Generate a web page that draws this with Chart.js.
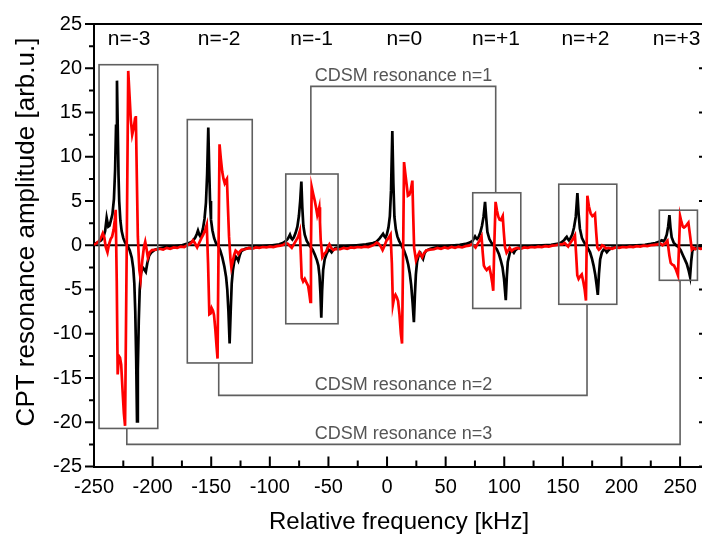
<!DOCTYPE html>
<html>
<head>
<meta charset="utf-8">
<script src="https://cdn.jsdelivr.net/npm/chart.js@4.4.1/dist/chart.umd.min.js"></script>
<style>
html,body{margin:0;padding:0;overflow:hidden;background:#fff;}
#wrap{width:712px;height:545px;}
</style>
</head>
<body>
<div id="wrap"><canvas id="c" width="712" height="545"></canvas></div>
<script>
// ---- data (kHz, arb.u.) ----
const blackSignal = [
[-250,0.15],[-247,0.3],[-244,0.55],[-242,0.9],[-240.5,1.6],[-239.2,3.1],[-237.8,2.1],[-236.8,2.2],[-235.8,2.7],[-234.3,3.5],[-233,5.2],[-232,8.5],[-231.2,13.5],[-230.4,18.6],[-229.7,13],[-229.1,8],[-228.5,5],[-227.5,2.8],[-226.4,1.6],[-225,0.8],[-223.5,0.3],[-221.5,0],[-219.5,-0.6],[-217.8,-1.4],[-216.5,-2.6],[-215.6,-4.3],[-214.8,-7.5],[-214,-13],[-213.3,-19.9],[-212.6,-14],[-211.8,-8.5],[-211,-5],[-210,-3.2],[-208.5,-2.5],[-207.3,-2.7],[-205.8,-3.0],[-204.5,-2.0],[-203,-1.2],[-201,-0.8],[-198,-0.5],[-194,-0.35],[-190,-0.25],[-185,-0.2],[-180,-0.1],[-175,0],[-171,0.15],
[-168,0.3],[-165.5,0.5],[-163.5,0.9],[-162.2,1.3],[-161.3,1.65],[-160.2,1.2],[-159.3,1.0],[-158.2,1.3],[-157,1.9],[-155.7,3.0],[-154.5,4.8],[-153.5,8],[-152.5,13.3],[-151.7,8.5],[-151,5],[-150.2,2.9],[-149,1.7],[-147.5,0.8],[-145.8,0.2],[-144.2,0],[-142.3,-0.6],[-140.5,-1.4],[-138.8,-2.4],[-137.3,-3.6],[-136.3,-5],[-135.3,-7.5],[-134.3,-11.1],[-133.4,-7.5],[-132.5,-4.3],[-131.5,-2.8],[-130.3,-1.8],[-129,-1.3],[-127.8,-1.5],[-126.9,-1.75],[-125.6,-1.1],[-124.3,-0.65],[-121,-0.4],[-117,-0.3],[-112,-0.2],[-105,-0.1],[-98,0],[-92,0.1],
[-89,0.25],[-86.5,0.45],[-84.5,0.75],[-82.8,1.2],[-81.7,0.8],[-80.8,0.65],[-79.5,0.9],[-78,1.4],[-76.5,2.1],[-75.2,3.3],[-74.1,5],[-73.1,7.2],[-72.3,4.3],[-71.4,2.2],[-70.2,1.2],[-68.5,0.5],[-66.3,0],[-63.5,-0.5],[-61.5,-1.1],[-59.8,-1.7],[-58.6,-2.3],[-57.6,-3.5],[-56.8,-5.5],[-56.1,-8.2],[-55.4,-5.2],[-54.5,-2.8],[-53.2,-1.6],[-51.5,-0.95],[-49.8,-0.5],[-48.5,-0.6],[-47.3,-0.8],[-45.8,-0.5],[-44,-0.3],[-40,-0.2],[-34,-0.1],[-26,0],[-18,0.1],
[-12,0.25],[-9,0.4],[-6.5,0.75],[-4.5,1.1],[-3.4,1.3],[-2.3,1.0],[-1.4,0.85],[-0.2,1.2],[1.2,2.0],[2.4,3.3],[3.4,6.2],[4.5,12.9],[5.4,7],[6.3,3.2],[7.5,1.8],[8.8,1.0],[10.3,0.5],[12.2,0],[14.5,-0.6],[16.5,-1.35],[18.1,-2.2],[19.4,-3.2],[20.6,-4.5],[21.8,-6.5],[22.9,-8.7],[23.8,-5.5],[24.6,-3.3],[25.6,-1.9],[26.8,-1.2],[28.5,-0.9],[29.6,-1.3],[30.7,-1.55],[32,-0.9],[33.5,-0.6],[37,-0.4],[41,-0.25],[48,-0.15],[55,-0.05],[62,0.05],
[67,0.15],[70.5,0.3],[73,0.5],[74.3,0.8],[75.1,1.0],[76,0.8],[76.8,0.7],[78,0.9],[79.5,1.4],[81,2.2],[82.3,3.2],[83.6,4.9],[84.6,3.1],[85.6,1.5],[87.3,0.7],[89.2,0.25],[90.7,0],[93.6,-0.45],[95.5,-1],[97,-1.7],[98.5,-2.5],[99.8,-3.8],[101.3,-6.2],[102.2,-3.5],[103,-1.9],[104.5,-1.0],[105.6,-0.55],[106.8,-0.6],[108.2,-0.85],[109.5,-0.55],[112,-0.3],[117,-0.2],[124,-0.1],[132,0],[140,0.05],
[145,0.15],[148.5,0.3],[151,0.55],[152.3,0.8],[153.3,0.95],[154.3,0.7],[155.2,0.55],[156.5,0.8],[158,1.2],[159.5,2],[161,3.2],[162.4,5.9],[163.4,3.6],[164.5,1.9],[166.3,0.8],[168.2,0.3],[170,0],[173.2,-0.8],[174.8,-1.5],[176.2,-2.3],[177.6,-3.3],[178.8,-4.5],[179.8,-5.6],[180.8,-3.2],[181.8,-1.6],[183.3,-0.8],[184.8,-0.5],[186,-0.5],[187.5,-0.8],[189,-0.55],[191.7,-0.3],[197,-0.2],[205,-0.1],[213,0],[220,0.05],
[225,0.15],[229,0.25],[232,0.4],[234.4,0.55],[235.8,0.45],[237.3,0.7],[238.6,1.2],[239.8,2.1],[240.9,3.4],[241.8,2.0],[242.8,0.9],[244.5,0.3],[246.5,0],[248.5,-0.2],[250.5,-0.55],[252.3,-1.1],[254,-1.6],[255.7,-2.1],[257.2,-2.8],[258.5,-3.55],[259.5,-1.8],[260.5,-0.6],[262.5,-0.3],[265.5,-0.2],[270,-0.1]
];
const redSignal = [
[-250,0.05],[-247.5,0.25],[-245.5,0.5],[-243.8,0.9],[-242.5,1.35],[-241.2,0.9],[-240,-0.2],[-238.5,-0.8],[-237.2,0.1],[-235.8,0.7],[-234.5,1.0],[-233.2,1.8],[-232.3,2.8],[-231.5,4.0],[-230.6,-4],[-229.8,-14.6],[-228.8,-12.5],[-227.8,-12.7],[-226.8,-13.5],[-225.6,-16.5],[-224.5,-19],[-223.5,-20.4],[-222.2,-2],[-220.8,19.7],[-219.8,17.2],[-218.6,14.2],[-217.4,12.5],[-216.2,13.2],[-215,14.3],[-214.3,14.6],[-213.5,8],[-212.6,1],[-211.3,-2.8],[-210.2,-3.8],[-208.8,-1.7],[-207.4,-0.2],[-206.3,0.4],[-205.2,-0.4],[-204,-1.4],[-202.5,-0.8],[-200.5,-0.55],[-197,-0.5],[-194,-0.4],[-191,-0.5],[-188,-0.3],[-185,-0.4],[-182,-0.25],[-179,-0.3],[-176,-0.15],[-173,-0.2],[-170.5,0],
[-168.5,0.1],[-166.8,0.3],[-165.6,0.55],[-164.2,0.3],[-163,0],[-162,-0.25],[-160.5,0.2],[-158.6,0.75],[-156.8,1.2],[-155.2,1.7],[-153.8,2.3],[-152.7,-2],[-151.6,-7.8],[-150.5,-7.7],[-149.6,-7.1],[-148.5,-7.4],[-147.6,-7.9],[-146.5,-9.5],[-145.4,-11.5],[-144.6,-12.8],[-143.8,-1],[-142.9,11.4],[-141.8,9.8],[-140.6,8.3],[-139.5,7.5],[-138.5,7.0],[-137.5,7.3],[-136.6,7.5],[-135.8,4.5],[-134.8,1],[-133.6,-1.5],[-132.8,-2.5],[-131.6,-1.8],[-130.5,-1.1],[-129.2,-0.6],[-128,-0.75],[-126.9,-1.0],[-125.5,-0.7],[-124,-0.5],[-121,-0.45],[-118,-0.3],[-115,-0.4],[-112,-0.25],[-109,-0.3],[-106,-0.2],[-103,-0.25],[-100,-0.15],[-97,-0.2],[-94,-0.1],[-91,-0.05],
[-88.5,0.05],[-86.3,0.25],[-84.5,0.15],[-82.8,-0.1],[-81.3,-0.3],[-79.8,0.05],[-77.8,0.5],[-76,0.9],[-74.4,1.6],[-73.6,-1],[-72.8,-3.7],[-71.6,-4.1],[-70.2,-3.8],[-68.8,-4.2],[-67.3,-4.6],[-66.3,-5.5],[-65.4,-6.4],[-64.9,0],[-64.3,6.6],[-63,5.8],[-61.6,5.0],[-60.5,4.2],[-59.5,3.4],[-58.5,3.9],[-57.8,4.3],[-57.2,2.6],[-56.6,0.6],[-55.2,-1.35],[-53.7,-1.0],[-52,-0.75],[-50.5,-0.2],[-49.2,0.1],[-47.6,-0.3],[-45.8,-0.55],[-43.5,-0.4],[-40,-0.45],[-37,-0.3],[-34,-0.4],[-31,-0.25],[-28,-0.3],[-25,-0.2],[-22,-0.25],[-19,-0.15],[-16,-0.2],[-13,-0.05],
[-10.5,0.1],[-8.8,0.3],[-7.3,0.2],[-5.5,-0.1],[-3.8,-0.55],[-2.3,-0.1],[-0.6,0.5],[1.2,0.8],[3.0,1.2],[4.1,-2],[5.0,-6.7],[6.1,-5.9],[7.2,-5.6],[8.4,-5.9],[9.4,-6.3],[10.6,-7.8],[11.8,-10],[12.8,-11.1],[13.7,-1],[14.5,9.4],[15.5,8.2],[16.6,7.0],[17.8,5.6],[19,5.7],[20.2,6.2],[21.6,7.3],[22.3,3.5],[23.1,-0.3],[24.7,-1.7],[26.2,-1.2],[27.6,-0.8],[29,-1.1],[30,-1.35],[31.5,-0.9],[33.5,-0.6],[36.5,-0.5],[40,-0.45],[43,-0.3],[46,-0.4],[49,-0.25],[52,-0.35],[55,-0.2],[58,-0.3],[61,-0.15],[64,-0.25],[67,-0.1],
[70,-0.05],[72.3,0.1],[74,-0.05],[75.5,-0.25],[77,0.1],[78.8,0.5],[80.6,1.0],[81.6,-0.8],[82.6,-2.3],[83.8,-2.6],[85,-2.8],[86.2,-2.6],[87.3,-2.5],[88.6,-3.3],[89.7,-4.2],[90.6,-5.15],[91.5,0],[92.6,4.9],[93.8,3.9],[95,3.2],[96,2.9],[97,2.85],[98,3.1],[98.7,3.3],[99.6,1.5],[100.6,-0.2],[102,-0.85],[103.3,-0.6],[104.6,-0.3],[106.3,-0.65],[108,-0.45],[111,-0.3],[114,-0.4],[117,-0.25],[120,-0.3],[123,-0.2],[126,-0.25],[129,-0.15],[132,-0.2],[135,-0.1],[138,-0.15],[141,-0.05],
[144,0],[147,0.1],[149.5,0.1],[151.5,0.25],[153,0.05],[154.5,-0.15],[156.3,0.25],[158.4,0.65],[160.3,1.1],[161.3,-1],[162.3,-3.4],[163.4,-3.8],[164.8,-3.5],[166.1,-3.3],[167.4,-4.1],[168.6,-5],[169.7,-6.25],[170.3,0],[170.9,5.6],[172.2,4.4],[173.7,3.6],[175.2,3.3],[176.4,3.4],[177.4,3.55],[178.4,1.5],[179.4,-0.25],[180.7,-0.5],[182,-0.35],[183.5,0],[185,-0.1],[186.5,-0.35],[189,-0.3],[192,-0.4],[195,-0.25],[198,-0.3],[201,-0.2],[204,-0.25],[207,-0.15],[210,-0.2],[213,-0.1],[216,-0.15],[219,-0.05],[222,-0.1],
[225,0],[228,0.05],[231,0.1],[233.2,0.2],[235,0],[236.8,0.15],[238.2,0.35],[239.2,0.5],[240,-0.3],[240.9,-1.2],[242,-2.0],[243.4,-2.2],[244.8,-2.3],[246.3,-2.7],[247.4,-3.1],[248.2,-3.4],[249.1,0],[250,3.3],[251.2,2.6],[252.3,2.1],[253.3,2.0],[254.3,2.1],[255.7,2.3],[257.1,2.55],[258.6,1],[260,-0.5],[261.5,-0.3],[263,-0.45],[265,-0.3],[267.5,-0.4],[270,-0.35]
];
// resonance order labels
const orderLabels = ["n=-3","n=-2","n=-1","n=0","n=+1","n=+2","n=+3"];
const orderLabelX = [-220,-143.3,-64.3,14.8,92.9,169.2,247];
const orderLabelY = 23.3;
// boxes around CDSM resonances
const boxLeft   = [-245.7,-170.4,-86.4,73.1,146.5,232.3];
const boxRight  = [-195.6,-115,-41.8,114.1,196,264.8];
const boxTop    = [20.4,14.2,8.05,5.93,6.9,3.96];
const boxBottom = [-20.7,-13.3,-8.87,-7.14,-6.67,-3.96];
// CDSM connectors
const cdsmLabels = ["CDSM resonance n=1","CDSM resonance n=2","CDSM resonance n=3"];
const cdsmX1 = [-65,-143.6,-222];
const cdsmX2 = [92.7,170.6,250];
const cdsmFrom1 = [8.05,-13.3,-20.7];
const cdsmFrom2 = [5.93,-6.67,-3.96];
const cdsmLevel = [17.95,-16.96,-22.5];
const cdsmLabelX = 14.1;
// axes
const xMin = -250, xMax = 270.4, xStep = 50, xMinorStep = 25;
const yMin = -25, yMax = 25, yStep = 5, yMinorStep = 2.5;
const xTitle = "Relative frequency [kHz]";
const yTitle = "CPT resonance amplitude [arb.u.]";

const FONT = "'Liberation Sans', Arial, Helvetica, sans-serif";

const toPts = arr => arr.map(p => ({x:p[0], y:p[1]}));

const decor = {
  id:'decor',
  beforeDatasetsDraw(chart){
    const {ctx, chartArea:a, scales:{x,y}} = chart;
    ctx.save();
    ctx.strokeStyle = '#000'; ctx.lineWidth = 2;
    const y0 = y.getPixelForValue(0);
    ctx.beginPath(); ctx.moveTo(a.left, y0); ctx.lineTo(a.right, y0); ctx.stroke();
    ctx.restore();
  },
  afterDatasetsDraw(chart){
    const {ctx, chartArea:a, scales:{x,y}} = chart;
    ctx.save();
    ctx.strokeStyle = '#5f5f5f'; ctx.lineWidth = 1.6;
    for (let i=0;i<boxLeft.length;i++){
      const l = x.getPixelForValue(boxLeft[i]), r = x.getPixelForValue(boxRight[i]);
      const t = y.getPixelForValue(boxTop[i]), b = y.getPixelForValue(boxBottom[i]);
      ctx.strokeRect(l, t, r-l, b-t);
    }
    for (let i=0;i<cdsmX1.length;i++){
      const x1 = x.getPixelForValue(cdsmX1[i]), x2 = x.getPixelForValue(cdsmX2[i]);
      const lv = y.getPixelForValue(cdsmLevel[i]);
      ctx.beginPath();
      ctx.moveTo(x1, y.getPixelForValue(cdsmFrom1[i]));
      ctx.lineTo(x1, lv); ctx.lineTo(x2, lv);
      ctx.lineTo(x2, y.getPixelForValue(cdsmFrom2[i]));
      ctx.stroke();
      ctx.fillStyle = '#555';
      ctx.font = '18px ' + FONT;
      ctx.textAlign = 'center'; ctx.textBaseline = 'alphabetic';
      ctx.fillText(cdsmLabels[i], x.getPixelForValue(cdsmLabelX), lv - 5);
    }
    ctx.fillStyle = '#000';
    ctx.font = '21px ' + FONT;
    ctx.textAlign = 'center'; ctx.textBaseline = 'middle';
    for (let i=0;i<orderLabels.length;i++){
      ctx.fillText(orderLabels[i], x.getPixelForValue(orderLabelX[i]), y.getPixelForValue(orderLabelY));
    }
    ctx.strokeStyle = '#000'; ctx.lineWidth = 2;
    ctx.beginPath();
    ctx.moveTo(a.left, a.top); ctx.lineTo(a.right, a.top); ctx.lineTo(a.right, a.bottom);
    ctx.stroke();
    ctx.lineWidth = 2;
    ctx.beginPath();
    for (let v = xMin; v <= xMax + 1e-6; v += xMinorStep){
      const px = x.getPixelForValue(v);
      const major = Math.abs(v % xStep) < 1e-6;
      const len = major ? 10 : 6;
      ctx.moveTo(px, a.bottom); ctx.lineTo(px, a.bottom - len);
    }
    for (let v = yMin; v <= yMax + 1e-6; v += yMinorStep){
      const py = y.getPixelForValue(v);
      const major = Math.abs(v % yStep) < 1e-6;
      const len = major ? 9 : 5;
      ctx.moveTo(a.left, py); ctx.lineTo(a.left - len, py);
      if (major) { ctx.moveTo(a.right, py); ctx.lineTo(a.right - 5, py); }
    }
    ctx.stroke();
    ctx.restore();
  },
  afterDraw(chart){
    const {ctx, chartArea:a} = chart;
    ctx.save();
    ctx.fillStyle = '#000';
    ctx.textAlign = 'center'; ctx.textBaseline = 'middle';
    ctx.font = '24px ' + FONT;
    ctx.fillText(xTitle, (a.left + 704) / 2, 522);
    ctx.font = '26px ' + FONT;
    ctx.translate(27, 232);
    ctx.rotate(-Math.PI/2);
    ctx.fillText(yTitle, 0, 0);
    ctx.restore();
  }
};

new Chart(document.getElementById('c'), {
  type: 'scatter',
  data: {
    datasets: [
      { label:'red', data: toPts(redSignal), showLine:true, borderColor:'#ff0000', borderWidth:2.7, pointRadius:0, tension:0, order:0 },
      { label:'black', data: toPts(blackSignal), showLine:true, borderColor:'#000000', borderWidth:2.7, pointRadius:0, tension:0, order:1 }
    ]
  },
  options: {
    responsive:false, animation:false, devicePixelRatio:1,
    layout:{ padding:{ left:0, right:8, top:12, bottom:0 } },
    plugins:{ legend:{display:false}, tooltip:{enabled:false} },
    scales:{
      x:{
        type:'linear', min:xMin, max:xMax,
        grid:{ display:true, drawOnChartArea:false, drawTicks:false },
        border:{ display:true, color:'#000', width:2 },
        ticks:{ stepSize:xStep, includeBounds:false, color:'#000', font:{family:FONT, size:20}, padding:9, maxRotation:0, autoSkip:false },
        afterFit(s){ s.height = 78.5; }
      },
      y:{
        type:'linear', min:yMin, max:yMax,
        grid:{ display:true, drawOnChartArea:false, drawTicks:false },
        border:{ display:true, color:'#000', width:2 },
        ticks:{ stepSize:yStep, color:'#000', font:{family:FONT, size:20}, padding:12, autoSkip:false },
        afterFit(s){ s.width = 94; }
      }
    }
  },
  plugins:[decor]
});
</script>
</body>
</html>
